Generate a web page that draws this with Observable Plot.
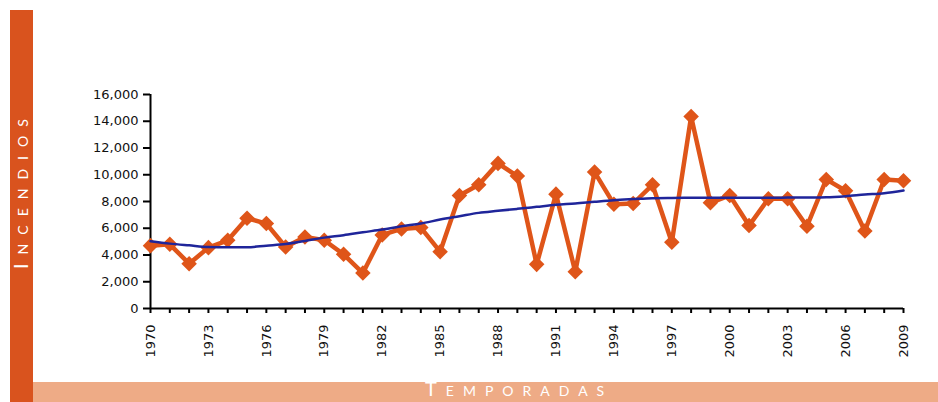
<!DOCTYPE html>
<html><head><meta charset="utf-8">
<script src="https://cdn.jsdelivr.net/npm/d3@7"></script>
<script src="https://cdn.jsdelivr.net/npm/@observablehq/plot@0.6"></script>
<style>
html,body{margin:0;padding:0;background:#fff;}
#wrap{position:relative;width:938px;height:402px;overflow:hidden;}
#leftbar{position:absolute;left:10px;top:10px;width:23px;height:392px;background:#D9531E;}
#bottombar{position:absolute;left:33px;top:382px;width:905px;height:20px;background:#EEAB86;}
.lab{position:absolute;color:#fff;font-family:Lato,"Open Sans",sans-serif;white-space:nowrap;line-height:1;}
#ylab{left:10px;top:269px;transform-origin:0 0;transform:rotate(-90deg);letter-spacing:9px;}
#xlab{left:425px;top:378px;letter-spacing:9px;}
.big{font-size:20px}.small{font-size:14px}
#chart{position:absolute;left:0;top:0;}
</style></head>
<body>
<div id="wrap">
  <div id="leftbar"></div>
  <div id="bottombar"></div>
  <div id="chart"></div>
  <div class="lab" id="ylab"><span class="big">I</span><span class="small">NCENDIOS</span></div>
  <div class="lab" id="xlab"><span class="big">T</span><span class="small">EMPORADAS</span></div>
</div>
<script>
const years = [1970,1971,1972,1973,1974,1975,1976,1977,1978,1979,1980,1981,1982,1983,1984,1985,1986,1987,1988,1989,1990,1991,1992,1993,1994,1995,1996,1997,1998,1999,2000,2001,2002,2003,2004,2005,2006,2007,2008,2009];
const incendios = [4700,4800,3350,4550,5100,6750,6350,4600,5350,5100,4050,2650,5500,5950,6050,4250,8450,9250,10850,9900,3300,8550,2750,10200,7800,7850,9250,4950,14350,7900,8450,6200,8200,8200,6150,9650,8800,5800,9650,9550];
const tendencia = [5030,4850,4720,4600,4580,4580,4700,4820,5050,5300,5480,5700,5900,6150,6350,6650,6900,7150,7300,7450,7600,7750,7850,7980,8100,8180,8250,8270,8280,8280,8280,8280,8280,8290,8300,8320,8400,8520,8620,8820];
const yTicks = [0,2000,4000,6000,8000,10000,12000,14000,16000];
const xLabelYears = [1970,1973,1976,1979,1982,1985,1988,1991,1994,1997,2000,2003,2006,2009];

const data = years.map((y,i)=>({year:y, value:incendios[i], trend:tendencia[i]}));

const chart = Plot.plot({
  width:938, height:382,
  marginLeft:150, marginRight:35, marginTop:94, marginBottom:74,
  style:{fontFamily:"'DejaVu Sans', Verdana, sans-serif", fontSize:"13px", color:"#111", background:"transparent"},
  x:{domain:[1970,2009]},
  y:{domain:[0,16000]},
  marks:[
    Plot.axisY({ticks:yTicks, tickFormat:d3.format(","), tickSize:7, tickPadding:5, strokeWidth:2, stroke:"#000", label:null}),
    Plot.axisX({ticks:years, tickFormat:d => xLabelYears.includes(d) ? String(d) : "", tickRotate:-90, tickSize:5, tickPadding:11, strokeWidth:2, stroke:"#000", label:null}),
    Plot.ruleX([1970], {stroke:"#000", strokeWidth:2}),
    Plot.ruleY([0], {stroke:"#000", strokeWidth:2}),
    Plot.line(data, {x:"year", y:"value", stroke:"#DF5519", strokeWidth:4.5}),
    Plot.dot(data, {x:"year", y:"value", symbol:"diamond2", r:7, fill:"#DF5519"}),
    Plot.line(data, {x:"year", y:"trend", stroke:"#1F259A", strokeWidth:2.5, curve:"monotone-x"})
  ]
});
document.getElementById("chart").appendChild(chart);
</script>
</body></html>
